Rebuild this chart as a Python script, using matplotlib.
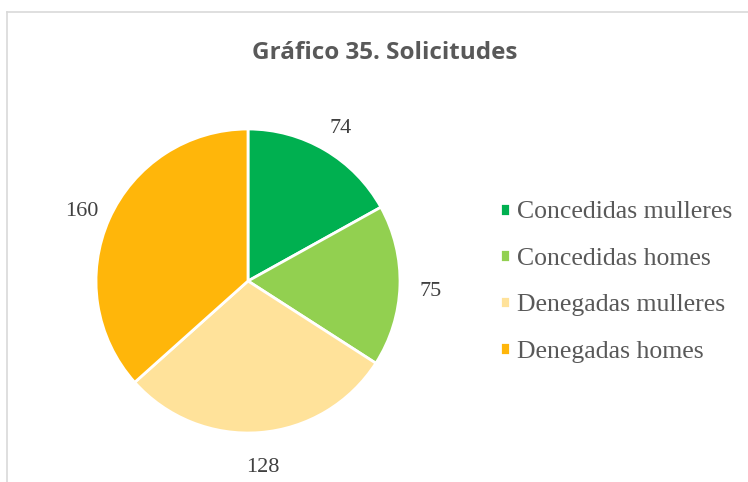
import matplotlib
matplotlib.use("Agg")
import matplotlib.pyplot as plt
from matplotlib.lines import Line2D
import numpy as np

categories = ["Concedidas mulleres", "Concedidas homes", "Denegadas mulleres", "Denegadas homes"]
values = [74, 75, 128, 160]
colors = ["#00B050", "#92D050", "#FFE29A", "#FFB60A"]
title = "Gráfico 35. Solicitudes"

W, H = 748, 482
fig = plt.figure(figsize=(W/100, H/100), dpi=100)

# chart border (only top and left edges visible)
fig.add_artist(Line2D([7/W, 1], [1-12/H, 1-12/H], color="#D9D9D9", lw=1.2))
fig.add_artist(Line2D([7/W, 7/W], [0, 1-12/H], color="#D9D9D9", lw=1.2))

cx, cy, r = 248, 281, 152
ax = fig.add_axes([(cx-r)/W, (H-cy-r)/H, 2*r/W, 2*r/H])
wedges, _ = ax.pie(values, colors=colors, startangle=90, counterclock=False,
                   wedgeprops=dict(edgecolor="white", linewidth=2))
ax.set_xlim(-1, 1)
ax.set_ylim(-1, 1)
ax.axis("off")

for w, v in zip(wedges, values):
    ang = np.deg2rad((w.theta1 + w.theta2)/2)
    ax.text(1.2*np.cos(ang), 1.2*np.sin(ang) - 0.03, str(v), ha="center", va="center",
            fontsize=16, family="Liberation Serif", color="#404040")

fig.text(385/W, 1-53/H, title, ha="center", va="center", fontsize=17.5,
         fontweight="bold", family="Open Sans", color="#595959")

leg = fig.legend(wedges, categories, loc="center left", bbox_to_anchor=(500/W, 1-282/H),
                 frameon=False, handlelength=0.38, handleheight=0.38, handletextpad=0.3,
                 labelspacing=0.95, borderpad=0, borderaxespad=0,
                 prop=dict(family="Liberation Serif", size=18.5))
for t in leg.get_texts():
    t.set_color("#595959")

fig.savefig("out.png", dpi=100)
